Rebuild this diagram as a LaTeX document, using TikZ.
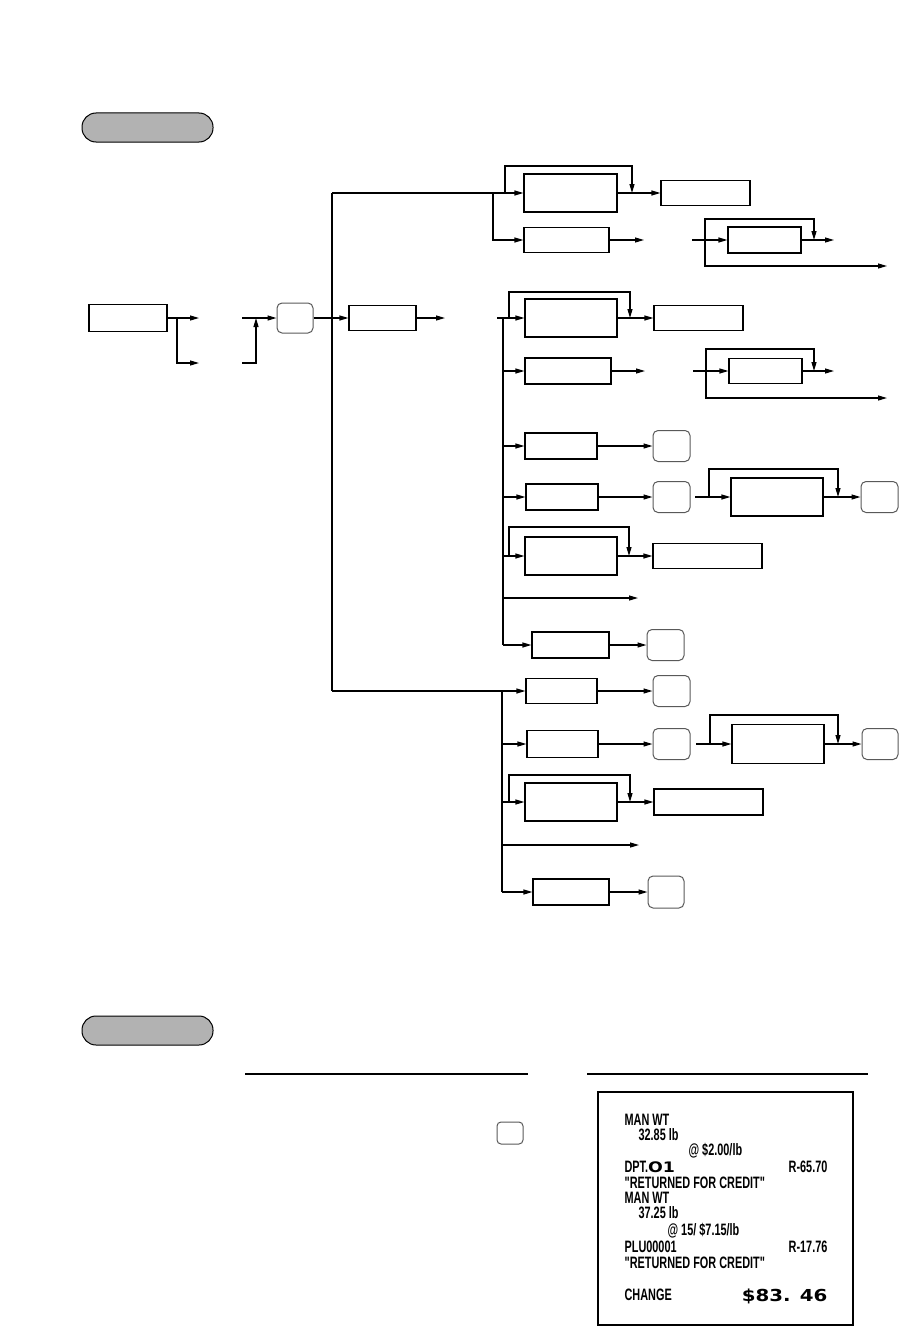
\documentclass[tikz,border=0pt]{standalone}
\usepackage{fontspec}
\usepackage{graphicx}
\usetikzlibrary{arrows.meta}
\newfontfamily\rfont[FakeStretch=0.66]{Liberation Sans}
\newfontfamily\bigfont[FakeStretch=1.2]{DejaVu Sans}
\begin{document}
\begin{tikzpicture}[x=1pt,y=-1pt,line width=1.2pt,
  arr/.style={-{Triangle[length=9pt,width=5pt]}},
  box/.style={draw,inner sep=0pt,line width=1.2pt},
  key/.style={draw=black!65,rounded corners=5pt,inner sep=0pt,line width=1pt},
  pill/.style={draw,fill=black!30,rounded corners=14pt,inner sep=0pt,line width=1pt,minimum width=131pt,minimum height=29pt},
  rt/.style={anchor=base west,inner sep=0pt,font=\rfont\bfseries\fontsize{16.5}{16.5}\selectfont},
  rtr/.style={rt,anchor=base east}]
\useasboundingbox (0,0) rectangle (899,1327);

% ---------- headers ----------
\node[pill] (p1) at (147.5,127.5) {};
\node[pill] (p2) at (147.5,1030.5) {};

% ---------- start ----------
\node[box,minimum width=78pt,minimum height=27pt] (s0) at (128,318) {};
\node[key,minimum width=36pt,minimum height=30pt] (k0) at (295,318) {};
\node[box,minimum width=67pt,minimum height=25pt] (b0) at (382.5,318) {};
\coordinate (sa) at (199,318);
\coordinate (sj) at (177,318);
\coordinate (sb) at (199,363);
\coordinate (sc) at (242,318);
\coordinate (sd) at (242,363);
\coordinate (se) at (256,363);
\coordinate (sf) at (256,318);
\coordinate (b0o) at (445,318);
\draw[arr] (s0.east) -- (sa);
\draw[arr] (sj) |- (sb);
\draw[arr] (sc) -- (k0.west);
\draw[arr] (sd) -- (se) -- (sf);
\draw[arr] (k0.east) -- (b0.west);
\draw[arr] (b0.east) -- (b0o);

% main vertical
\coordinate (mvt) at (332,193);
\coordinate (mvb) at (332,691);
\draw (mvt) -- (mvb);

% ---------- top band ----------
\node[box,minimum width=93pt,minimum height=38pt] (t1) at (570.5,193) {};
\node[box,minimum width=89pt,minimum height=25pt] (t1o) at (705.5,193) {};
\node[box,minimum width=85pt,minimum height=25pt] (t2) at (566.5,240) {};
\node[box,minimum width=73pt,minimum height=26pt] (t3) at (764.5,240) {};
\draw[arr] (mvt) -- (t1.west);
\coordinate (tb) at (493,193);
\draw[arr] (tb) |- (t2.west);
\coordinate (tl1) at (505,193);
\coordinate (tl2) at (632,193);
\draw[arr] (tl1) -- (505,166) -| (tl2);
\draw[arr] (t1.east) -- (t1o.west);
\coordinate (t2o) at (644,240);
\draw[arr] (t2.east) -- (t2o);
\coordinate (t3i) at (692,240);
\draw[arr] (t3i) -- (t3.west);
\coordinate (t3l) at (705,240);
\coordinate (t3r) at (814,240);
\draw[arr] (t3l) -- (705,219) -| (t3r);
\coordinate (t3o) at (834,240);
\draw[arr] (t3.east) -- (t3o);
\coordinate (t3x) at (887,266);
\draw[arr] (t3l) |- (t3x);

% ---------- second band ----------
\node[box,minimum width=92pt,minimum height=38pt] (m1) at (571,318) {};
\node[box,minimum width=89pt,minimum height=25pt] (m1o) at (698.5,318) {};
\node[box,minimum width=86pt,minimum height=26pt] (m2) at (568,371) {};
\node[box,minimum width=73pt,minimum height=25pt] (m3) at (765.5,371) {};
\coordinate (mi) at (497,318);
\draw[arr] (mi) -- (m1.west);
\coordinate (v1t) at (503,318);
\coordinate (v1b) at (503,645);
\draw (v1t) -- (v1b);
\coordinate (ml1) at (509,318);
\coordinate (ml2) at (630,318);
\draw[arr] (ml1) -- (509,292) -| (ml2);
\draw[arr] (m1.east) -- (m1o.west);
\coordinate (m2i) at (503,371);
\draw[arr] (m2i) -- (m2.west);
\coordinate (m2o) at (645,371);
\draw[arr] (m2.east) -- (m2o);
\coordinate (m3i) at (693,371);
\draw[arr] (m3i) -- (m3.west);
\coordinate (m3l) at (706,371);
\coordinate (m3r) at (814,371);
\draw[arr] (m3l) -- (706,349) -| (m3r);
\coordinate (m3o) at (834,371);
\draw[arr] (m3.east) -- (m3o);
\coordinate (m3x) at (887,398);
\draw[arr] (m3l) |- (m3x);

% row A
\node[box,minimum width=72pt,minimum height=26pt] (ra) at (561,446) {};
\node[key,minimum width=37pt,minimum height=31pt] (ka) at (671.5,446) {};
\coordinate (rai) at (503,446);
\draw[arr] (rai) -- (ra.west);
\draw[arr] (ra.east) -- (ka.west);
% row B
\node[box,minimum width=72pt,minimum height=26pt] (rb) at (562,497) {};
\node[key,minimum width=37pt,minimum height=31pt] (kb) at (671.5,497) {};
\node[box,minimum width=92pt,minimum height=38pt] (rb2) at (777,497) {};
\node[key,minimum width=37pt,minimum height=31pt] (kb3) at (879.5,497) {};
\coordinate (rbi) at (503,497);
\draw[arr] (rbi) -- (rb.west);
\draw[arr] (rb.east) -- (kb.west);
\coordinate (rb2i) at (695,497);
\draw[arr] (rb2i) -- (rb2.west);
\coordinate (rbl) at (709,497);
\coordinate (rbr) at (838,497);
\draw[arr] (rbl) -- (709,469) -| (rbr);
\draw[arr] (rb2.east) -- (kb3.west);
% row C
\node[box,minimum width=92pt,minimum height=38pt] (rc) at (571,556) {};
\node[box,minimum width=109pt,minimum height=25pt] (rc2) at (707.5,556) {};
\coordinate (rci) at (503,556);
\draw[arr] (rci) -- (rc.west);
\coordinate (rcl) at (509,556);
\coordinate (rcr) at (629,556);
\draw[arr] (rcl) -- (509,527) -| (rcr);
\draw[arr] (rc.east) -- (rc2.west);
% row D
\coordinate (rdi) at (503,598);
\coordinate (rdo) at (638,598);
\draw[arr] (rdi) -- (rdo);
% row E
\node[box,minimum width=77pt,minimum height=26pt] (re) at (570.5,645) {};
\node[key,minimum width=37pt,minimum height=31pt] (ke) at (665.5,645) {};
\draw[arr] (v1b) -- (re.west);
\draw[arr] (re.east) -- (ke.west);

% ---------- bottom group ----------
\node[box,minimum width=71pt,minimum height=25pt] (rf) at (561.5,691) {};
\node[key,minimum width=37pt,minimum height=31pt] (kf) at (671.5,691) {};
\draw[arr] (mvb) -- (rf.west);
\coordinate (v2t) at (502,691);
\coordinate (v2b) at (502,892);
\draw (v2t) -- (v2b);
\draw[arr] (rf.east) -- (kf.west);
% row G
\node[box,minimum width=71pt,minimum height=27pt] (rg) at (562.5,744) {};
\node[key,minimum width=37pt,minimum height=31pt] (kg) at (671.5,744) {};
\node[box,minimum width=92pt,minimum height=39pt] (rg2) at (778,744) {};
\node[key,minimum width=36pt,minimum height=31pt] (kg3) at (880,744) {};
\coordinate (rgi) at (502,744);
\draw[arr] (rgi) -- (rg.west);
\draw[arr] (rg.east) -- (kg.west);
\coordinate (rg2i) at (696,744);
\draw[arr] (rg2i) -- (rg2.west);
\coordinate (rgl) at (710,744);
\coordinate (rgr) at (838,744);
\draw[arr] (rgl) -- (710,715) -| (rgr);
\draw[arr] (rg2.east) -- (kg3.west);
% row H
\node[box,minimum width=92pt,minimum height=38pt] (rh) at (571,802) {};
\node[box,minimum width=109pt,minimum height=26pt] (rh2) at (708.5,802) {};
\coordinate (rhi) at (502,802);
\draw[arr] (rhi) -- (rh.west);
\coordinate (rhl) at (509,802);
\coordinate (rhr) at (630,802);
\draw[arr] (rhl) -- (509,775) -| (rhr);
\draw[arr] (rh.east) -- (rh2.west);
% row I
\coordinate (rii) at (502,845);
\coordinate (rio) at (639,845);
\draw[arr] (rii) -- (rio);
% row J
\node[box,minimum width=76pt,minimum height=26pt] (rj) at (571,892) {};
\node[key,minimum width=36pt,minimum height=32pt] (kj) at (666,892) {};
\draw[arr] (v2b) -- (rj.west);
\draw[arr] (rj.east) -- (kj.west);

% ---------- example ----------
\coordinate (l1a) at (245,1074);
\coordinate (l1b) at (528,1074);
\coordinate (l2a) at (587,1074);
\coordinate (l2b) at (868,1074);
\draw (l1a) -- (l1b);
\draw (l2a) -- (l2b);
\node[key,minimum width=26pt,minimum height=22pt,rounded corners=4pt] (kx) at (510,1133) {};
\node[box,minimum width=255pt,minimum height=233pt] (rcpt) at (725.5,1208.5) {};

\node[rt] (r1) at (624,1125) {MAN WT};
\node[rt] (r2) at (638,1140) {32.85 lb};
\node[rt] (r3) at (688,1155) {@ \$2.00/lb};
\node[rt] (r4) at (624,1172) {DPT.{\bigfont\bfseries\fontsize{14.5}{14.5}\selectfont O1}};
\node[rtr] (r4b) at (828,1172) {R-65.70};
\node[rt] (r5) at (624,1188) {"RETURNED FOR CREDIT"};
\node[rt] (r6) at (624,1203) {MAN WT};
\node[rt] (r7) at (638,1218) {37.25 lb};
\node[rt] (r8) at (667,1235) {@ 15/ \$7.15/lb};
\node[rt] (r9) at (624,1252) {PLU00001};
\node[rtr] (r9b) at (828,1252) {R-17.76};
\node[rt] (r10) at (624,1268) {"RETURNED FOR CREDIT"};
\node[rt] (r11) at (624,1300) {CHANGE};
\node[anchor=base east,inner sep=0pt,font=\bigfont\bfseries\fontsize{16.5}{16.5}\selectfont] (r11b) at (828,1301) {\$83. 46};
\end{tikzpicture}
\end{document}
